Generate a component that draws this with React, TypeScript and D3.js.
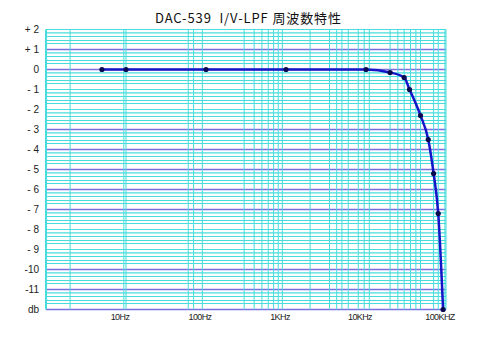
import * as d3 from "d3"

// measured response (Hz, dB)
const freqs = [5, 10, 100, 1000, 10000, 20000, 30000, 35000, 48000, 60000, 70000, 80000, 92000]
const gains = [0, 0, 0, 0, 0, -0.15, -0.4, -1.0, -2.3, -3.5, -5.2, -7.2, -12]

const yTicks = [2, 1, 0, -1, -2, -3, -4, -5, -6, -7, -8, -9, -10, -11, -12]
const yTickLabels = ["+ 2", "+ 1", "0", "- 1", "- 2", "- 3", "- 4", "- 5", "- 6", "- 7", "- 8", "- 9", "-10", "-11", "db"]
const darkRows = [1, 0, -3, -4, -5, -6, -7, -10, -11, -12]
const minorSteps = [0.17, 0.35, 0.55, 0.7]

const xTicks = [10, 100, 1000, 10000, 100000]
const xTickLabels = ["10Hz", "100Hz", "1KHz", "10KHz", "100KHZ"]
const xGrid = [
  2, 9.4, 10, 60, 70, 90, 300, 400, 500, 600, 700, 800, 900, 2000, 3500, 4300, 5000, 6000, 8000, 9500, 11000,
  20000, 25000, 30000, 36000, 42000, 48000, 70000, 80000, 97000,
]

const W = 480
const H = 352
const left = 46
const right = 446
const top = 29.5
const bottom = 309.5

export default function App() {
  const x = d3.scaleLog().domain([1, 100000]).range([left, right])
  const y = d3.scaleLinear().domain([-12, 2]).range([bottom, top])

  const minorRows: number[] = []
  for (let v = 2; v > -12; v--) {
    minorSteps.forEach((s) => minorRows.push(v - s))
  }

  const pts = freqs.map((f, i) => [x(f), y(gains[i])] as [number, number])
  const line = d3.line().curve(d3.curveMonotoneX)(pts) ?? ""

  const cyan = "#48dcdc"
  const purple = "#7a6ee0"

  return (
    <svg
      width={W}
      height={H}
      style={{ position: "absolute", left: 0, top: 0, background: "#fff" }}
      fontFamily="'Liberation Sans', Arial, sans-serif"
    >
      <text
        x={155}
        y={23}
        fontSize={13}
        fill="#111"
        textLength={186}
        lengthAdjust="spacing"
        style={{ whiteSpace: "pre" }}
        fontFamily="'Noto Sans CJK JP', sans-serif"
      >
        DAC-539  I/V-LPF 周波数特性
      </text>

      {/* minor horizontal grid */}
      {minorRows.map((v, i) => (
        <line key={"mh" + i} x1={left} x2={right} y1={y(v)} y2={y(v)} stroke={cyan} strokeWidth={1.2} />
      ))}
      {/* major horizontal grid */}
      {yTicks.map((v) => (
        <line
          key={"h" + v}
          x1={left}
          x2={right}
          y1={y(v)}
          y2={y(v)}
          stroke={darkRows.includes(v) ? purple : cyan}
          strokeWidth={darkRows.includes(v) ? 1.4 : 1.2}
        />
      ))}
      {/* vertical grid */}
      {xGrid.map((f, i) => (
        <line key={"v" + i} x1={x(f)} x2={x(f)} y1={top} y2={bottom} stroke={cyan} strokeWidth={1} />
      ))}
      <line x1={left} x2={left} y1={top} y2={bottom} stroke={cyan} strokeWidth={2} />
      <line x1={right} x2={right} y1={top} y2={bottom} stroke={cyan} strokeWidth={1} />

      {/* y labels */}
      {yTicks.map((v, i) => (
        <text key={"yl" + v} x={39} y={y(v) + 3.5} textAnchor="end" fontSize={10} fill="#222">
          {yTickLabels[i]}
        </text>
      ))}

      {/* x labels */}
      {xTicks.map((f, i) => (
        <text
          key={"xl" + f}
          x={x(f) - 6}
          y={320}
          textAnchor="middle"
          fontSize={9}
          letterSpacing={-0.6}
          fill="#222"
        >
          {xTickLabels[i]}
        </text>
      ))}

      {/* response curve */}
      <path d={line} fill="none" stroke="#1414c8" strokeWidth={2.5} />
      {pts.map((p, i) => (
        <circle key={"p" + i} cx={p[0]} cy={p[1]} r={2.6} fill="#0a0a50" />
      ))}
    </svg>
  )
}
